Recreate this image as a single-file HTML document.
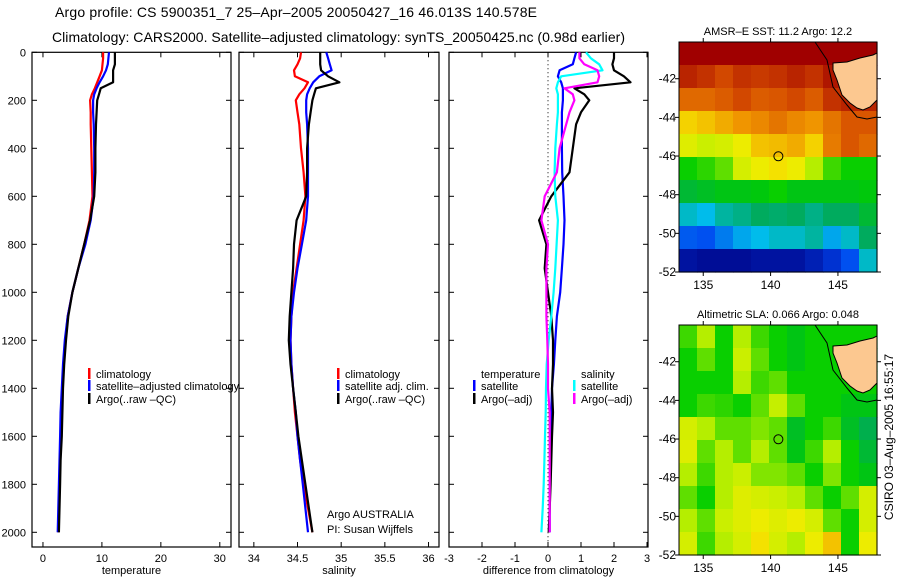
<!DOCTYPE html>
<html><head><meta charset="utf-8"><style>
html,body{margin:0;padding:0;background:#fff;}
svg{display:block;font-family:"Liberation Sans",sans-serif;}
text{font-size:11px;fill:#000;}
</style></head><body>
<svg id="fig" width="900" height="580" viewBox="0 0 900 580" xmlns="http://www.w3.org/2000/svg">
<rect width="900" height="580" fill="#fff"/>
<text x="55" y="17" style="font-size:14px" textLength="482">Argo profile: CS 5900351_7 25–Apr–2005 20050427_16 46.013S 140.578E</text>
<text x="52" y="42" style="font-size:14px" textLength="573">Climatology: CARS2000. Satellite–adjusted climatology: synTS_20050425.nc (0.98d earlier)</text>
<g id="layer"></g>
</svg>
<script>
const depths=[0,25,50,75,100,125,150,175,200,250,300,400,500,600,700,800,900,1000,1100,1200,1300,1400,1500,1600,1700,1800,1900,2000];
const tempClim=[10.2,10.2,10.1,10.0,9.6,9.2,8.8,8.3,8.0,8.1,8.1,8.2,8.3,8.4,7.9,7.0,6.0,5.0,4.2,3.8,3.5,3.3,3.2,3.0,2.9,2.8,2.7,2.6];
const tempSat=[11.2,11.1,11.0,10.7,10.2,9.6,9.1,8.7,8.5,8.5,8.6,8.7,8.7,8.6,8.1,7.2,6.0,5.0,4.2,3.7,3.4,3.2,3.0,2.9,2.8,2.7,2.6,2.5];
const tempArgo=[12.2,12.2,12.2,11.9,11.9,11.9,9.8,9.5,9.2,9.1,9.0,8.9,8.9,8.7,8.0,7.0,6.0,5.0,4.3,3.9,3.6,3.4,3.3,3.2,3.0,2.9,2.8,2.7];
const salClim=[34.54,34.53,34.50,34.46,34.47,34.62,34.58,34.52,34.48,34.50,34.52,34.54,34.57,34.59,34.57,34.53,34.49,34.45,34.43,34.42,34.43,34.45,34.47,34.50,34.53,34.57,34.62,34.67];
const salSat=[34.83,34.85,34.87,34.89,34.75,34.68,34.64,34.61,34.60,34.60,34.61,34.62,34.62,34.62,34.60,34.55,34.50,34.46,34.43,34.42,34.43,34.45,34.48,34.50,34.53,34.56,34.59,34.62];
const salArgo=[34.76,34.76,34.76,34.77,34.85,34.98,34.71,34.69,34.67,34.65,34.63,34.61,34.61,34.60,34.49,34.46,34.45,34.43,34.41,34.40,34.42,34.45,34.48,34.51,34.55,34.59,34.63,34.67];
const dTempSat=[0.85,0.8,0.75,0.35,0.3,0.4,0.45,0.45,0.45,0.42,0.42,0.42,0.43,0.47,0.5,0.47,0.42,0.37,0.27,0.22,0.18,0.12,0.1,0.08,0.07,0.06,0.05,0.05];
const dTempArgo=[2.0,2.0,1.95,2.0,2.3,2.5,0.8,1.1,1.25,1.0,0.85,0.75,0.65,0.1,-0.27,-0.05,-0.1,0.0,0.1,0.15,0.15,0.12,0.15,0.12,0.1,0.08,0.05,0.02];
const dSalSat=[1.15,1.3,1.55,1.65,0.4,0.3,0.25,0.3,0.3,0.3,0.27,0.22,0.2,0.22,0.3,0.26,0.22,0.17,0.1,0.02,-0.04,-0.06,-0.07,-0.09,-0.11,-0.13,-0.16,-0.2];
const dSalArgo=[0.95,0.95,1.1,1.5,1.55,1.5,0.5,0.75,0.8,0.65,0.55,0.35,0.27,-0.1,-0.2,0.0,-0.05,-0.05,-0.05,-0.02,0.0,0.0,0.05,0.05,0.05,0.05,0.05,0.05];
const depthTicks=[0,200,400,600,800,1000,1200,1400,1600,1800,2000];
const tempTicks=[0,10,20,30];
const salTicks=[34,34.5,35,35.5,36];
const diffTicks=[-3,-2,-1,0,1,2,3];
const sstGrid=[
[1,1,1,1,1,1,1,1,1,1,1],
[0.95,0.93,0.9,0.93,0.92,0.93,0.95,0.93,0.97,1,1],
[0.85,0.85,0.87,0.9,0.87,0.88,0.9,0.87,0.93,0.95,0.95],
[0.7,0.72,0.75,0.78,0.8,0.83,0.8,0.78,0.83,0.88,0.88],
[0.62,0.58,0.6,0.65,0.72,0.73,0.75,0.7,0.82,0.88,0.85],
[0.45,0.47,0.5,0.6,0.65,0.68,0.65,0.55,0.48,0.45,0.45],
[0.38,0.4,0.42,0.42,0.43,0.45,0.42,0.42,0.42,0.42,0.43],
[0.25,0.22,0.28,0.3,0.33,0.32,0.33,0.3,0.33,0.33,0.38],
[0.13,0.12,0.16,0.2,0.22,0.25,0.25,0.28,0.2,0.25,0.33],
[0.03,0.02,0.02,0.02,0.03,0.03,0.03,0.05,0.08,0.12,0.25]];
const slaGrid=[
[0.48,0.55,0.45,0.55,0.48,0.45,0.42,0.45,0.45,0.45,0.45],
[0.45,0.5,0.45,0.58,0.5,0.45,0.42,0.45,0.45,0.45,0.45],
[0.45,0.45,0.45,0.55,0.48,0.5,0.45,0.45,0.45,0.45,0.45],
[0.45,0.48,0.47,0.45,0.5,0.57,0.5,0.45,0.45,0.42,0.42],
[0.6,0.55,0.5,0.5,0.52,0.5,0.4,0.45,0.48,0.4,0.35],
[0.62,0.5,0.55,0.5,0.55,0.5,0.42,0.48,0.55,0.45,0.38],
[0.55,0.48,0.55,0.58,0.52,0.52,0.5,0.45,0.52,0.45,0.42],
[0.5,0.45,0.55,0.62,0.6,0.58,0.55,0.5,0.45,0.5,0.6],
[0.55,0.5,0.58,0.62,0.65,0.62,0.65,0.6,0.5,0.45,0.6],
[0.6,0.48,0.55,0.6,0.68,0.6,0.55,0.65,0.72,0.45,0.65]];
const lonTicks=[135,140,145];
const latTicks=[-42,-44,-46,-48,-50,-52];
const argoLon=140.578, argoLat=-46.013;

const NS="http://www.w3.org/2000/svg";
const layer=document.getElementById('layer');
function mk(tag,attrs,parent){const e=document.createElementNS(NS,tag);for(const k in attrs)e.setAttribute(k,attrs[k]);(parent||layer).appendChild(e);return e;}
const yTop=52.3,yBot=547;
function yD(d){return yTop+d*0.24;}

function panel(name,x0,x1,vmin,vmax,ticks,xlabel,showY){
  const g=mk('g',{});
  
  
  const sx=v=>x0+(v-vmin)/(vmax-vmin)*(x1-x0);
  const fr=mk('rect',{x:x0,y:yTop,width:x1-x0,height:yBot-yTop,fill:'none',stroke:'#000','stroke-width':1.2},g);
  
  
  depthTicks.forEach(d=>{
    mk('line',{x1:x0,x2:x0+5,y1:yD(d),y2:yD(d),stroke:'#000'},g);
    mk('line',{x1:x1,x2:x1-5,y1:yD(d),y2:yD(d),stroke:'#000'},g);
    if(showY){const t=mk('text',{x:x0-6,y:yD(d)+4,'text-anchor':'end'},g);t.textContent=d;
      
      }
  });
  ticks.forEach(v=>{
    const x=sx(v);
    mk('line',{x1:x,x2:x,y1:yBot,y2:yBot-5,stroke:'#000'},g);
    mk('line',{x1:x,x2:x,y1:yTop,y2:yTop+5,stroke:'#000'},g);
    const t=mk('text',{x:x,y:yBot+15,'text-anchor':'middle'},g);t.textContent=v;
    
    
  });
  const xl=mk('text',{x:(x0+x1)/2,y:574,'text-anchor':'middle'},g);xl.textContent=xlabel;
  
  
  return {g,sx};
}
function series(p,vals,color,name,dash){
  const pts=vals.map((v,i)=>p.sx(v).toFixed(1)+','+yD(depths[i]).toFixed(1)).join(' ');
  const l=mk('polyline',{points:pts,fill:'none',stroke:color,'stroke-width':2.2,'stroke-linejoin':'round'},p.g);
  
  
}
function legend(g,x,y,color,label,name){
  if(color){const m=mk('rect',{x:x,y:y-8,width:2.5,height:11,fill:color},g);
    
    }
  const t=mk('text',{x:x+8,y:y+2},g);t.textContent=label;
  
  
}
// panel 1
const p1=panel('temperature-panel',32,231,-1.86,31.9,tempTicks,'temperature',true);
mk('text',{y:-100},p1.g);
const yl=mk('text',{x:-100,y:-100},p1.g);
series(p1,tempClim,'#f00','temp-climatology-line');
series(p1,tempSat,'#00f','temp-satellite-line');
series(p1,tempArgo,'#000','temp-argo-line');
legend(p1.g,88,376,'#f00','climatology','legend-climatology');
legend(p1.g,88,388,'#00f','satellite–adjusted climatology','legend-satellite-adjusted');
legend(p1.g,88,401,'#000','Argo(..raw –QC)','legend-argo');
// panel 2
const p2=panel('salinity-panel',239,439,33.83,36.12,salTicks,'salinity',false);
series(p2,salClim,'#f00','sal-climatology-line');
series(p2,salSat,'#00f','sal-satellite-line');
series(p2,salArgo,'#000','sal-argo-line');
legend(p2.g,337,376,'#f00','climatology','legend-sal-climatology');
legend(p2.g,337,388,'#00f','satellite adj. clim.','legend-sal-satellite');
legend(p2.g,337,401,'#000','Argo(..raw –QC)','legend-sal-argo');
const a1=mk('text',{x:327,y:518},p2.g);a1.textContent='Argo AUSTRALIA';


const a2=mk('text',{x:327,y:533},p2.g);a2.textContent='PI: Susan Wijffels';


// panel 3
const p3=panel('difference-panel',449,648,-3,3.03,diffTicks,'difference from climatology',false);
const zl=mk('line',{x1:p3.sx(0),x2:p3.sx(0),y1:yTop,y2:yBot,stroke:'#000','stroke-dasharray':'1,3'},p3.g);


series(p3,dTempSat,'#00f','diff-temp-satellite-line');
series(p3,dTempArgo,'#000','diff-temp-argo-line');
series(p3,dSalSat,'#0ff','diff-sal-satellite-line');
series(p3,dSalArgo,'#f0f','diff-sal-argo-line');
legend(p3.g,473,376,null,'temperature','legend-temperature-header');
legend(p3.g,473,388,'#00f','satellite','legend-temp-satellite');
legend(p3.g,473,401,'#000','Argo(–adj)','legend-temp-argo');
legend(p3.g,573,376,null,'salinity','legend-salinity-header');
legend(p3.g,573,388,'#0ff','satellite','legend-sal-satellite-diff');
legend(p3.g,573,401,'#f0f','Argo(–adj)','legend-sal-argo-diff');

// colormap
const stops=[[0,0,130],[0,70,240],[0,190,235],[0,170,90],[0,205,0],[190,240,0],[245,235,0],[240,150,0],[215,80,0],[160,0,0]];
function cmap(v){v=Math.max(0,Math.min(1,v))*(stops.length-1);const i=Math.min(stops.length-2,Math.floor(v)),f=v-i;
  const c=stops[i].map((a,k)=>Math.round(a+(stops[i+1][k]-a)*f));return 'rgb('+c.join(',')+')';}
const lonMin=133.2,lonMax=147.9,latMax=-40.1,latMin=-52;
const tasLand=[[833,63],[847,62],[860,58],[873,55],[877,53],[877,100],[870,107],[863,110],[857,108],[850,103],[842,95],[837,80],[833,70]];
const shelf=[[815,42],[827,60],[833,87],[847,105],[857,117],[867,119],[877,117]];
function map(name,top,grid,title){
  const g=mk('g',{});
  
  
  const x0=679,x1=877,y1=top+230;
  const sx=l=>x0+(l-lonMin)/(lonMax-lonMin)*(x1-x0);
  const sy=l=>top+(latMax-l)/(latMax-latMin)*(y1-top);
  const rows=grid.length,cols=grid[0].length,cw=(x1-x0)/cols,ch=(y1-top)/rows;
  grid.forEach((r,i)=>r.forEach((v,j)=>{
    const c=mk('rect',{x:(x0+j*cw).toFixed(2),y:(top+i*ch).toFixed(2),width:(cw+0.6).toFixed(2),height:(ch+0.6).toFixed(2),fill:cmap(v)},g);
    
    
  }));
  const dy=top-42;
  const land=mk('polygon',{points:tasLand.map(p=>p[0]+','+(p[1]+dy)).join(' '),fill:'#fcc890',stroke:'#000','stroke-width':1},g);
  
  
  const sh=mk('polyline',{points:shelf.map(p=>p[0]+','+(p[1]+dy)).join(' '),fill:'none',stroke:'#000','stroke-width':1},g);
  
  
  const fr=mk('rect',{x:x0,y:top,width:x1-x0,height:y1-top,fill:'none',stroke:'#000','stroke-width':1},g);
  
  
  const mkr=mk('circle',{cx:sx(argoLon),cy:sy(argoLat),r:4.5,fill:'none',stroke:'#000','stroke-width':1},g);
  
  
  lonTicks.forEach(l=>{const x=sx(l);
    mk('line',{x1:x,x2:x,y1:y1,y2:y1+4,stroke:'#000'},g);
    mk('line',{x1:x,x2:x,y1:top,y2:top-4,stroke:'#000'},g);
    const t=mk('text',{x:x,y:y1+17,'text-anchor':'middle','style':'font-size:12px'},g);t.textContent=l;
    
    });
  latTicks.forEach(l=>{const y=sy(l);
    mk('line',{x1:x0,x2:x0-4,y1:y,y2:y,stroke:'#000'},g);
    mk('line',{x1:x1,x2:x1+4,y1:y,y2:y,stroke:'#000'},g);
    const t=mk('text',{x:676,y:y+4,'text-anchor':'end','style':'font-size:12px'},g);t.textContent=l;
    
    });
  const tt=mk('text',{x:(x0+x1)/2,y:top-7,'text-anchor':'middle'},g);tt.textContent=title;
  
  
}
map('sst-map',42,sstGrid,'AMSR–E SST: 11.2 Argo: 12.2');
map('sla-map',325,slaGrid,'Altimetric SLA: 0.066 Argo: 0.048');
const side=mk('text',{x:0,y:0,transform:'translate(893,437) rotate(-90)','text-anchor':'middle','style':'font-size:12px'});
side.textContent='CSIRO 03–Aug–2005 16:55:17';


</script>
</body></html>
